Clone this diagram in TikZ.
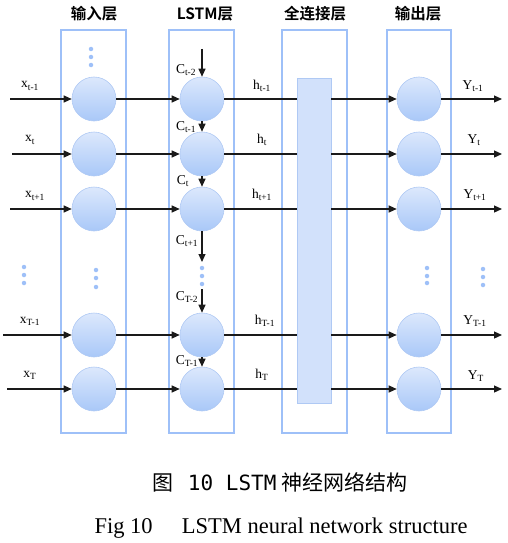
\documentclass[tikz,border=0pt]{standalone}
\usepackage{fontspec}
\setmainfont{Liberation Serif}
\newfontfamily\cjkb{Noto Sans CJK SC}[BoldFont={* Bold}]
\newfontfamily\cjk{Noto Sans CJK SC}
\newfontfamily\monof{DejaVu Sans Mono}
\usetikzlibrary{arrows.meta}
\definecolor{boxc}{HTML}{9EC0F8}
\definecolor{circtop}{HTML}{DCE8FC}
\definecolor{circbot}{HTML}{A9C8F8}
\definecolor{circline}{HTML}{AFC9F4}
\definecolor{fcfill}{HTML}{D2E1FB}
\definecolor{linec}{HTML}{1A1A1A}
\tikzset{
  layerbox/.style={draw=boxc, line width=1.1pt},
  neuron/.style={circle, minimum size=44pt, inner sep=0pt, draw=circline, line width=0.6pt, top color=circtop, bottom color=circbot},
  conn/.style={draw=linec, line width=1.2pt, -{Triangle[length=8pt,width=7pt]}},
  plain/.style={draw=linec, line width=1.2pt},
  lab/.style={font=\fontsize{13.5}{15}\selectfont, inner sep=0pt},
  title/.style={font=\cjkb\bfseries\fontsize{15.5}{17}\selectfont, inner sep=0pt},
  dot/.style={circle, fill=boxc, inner sep=0pt, minimum size=4.5pt}
}
\begin{document}
\begin{tikzpicture}[x=1pt,y=-1pt]
\useasboundingbox (0,0) rectangle (507,543);
% layer boxes
\draw[layerbox] (61,30) rectangle (126,433);
\draw[layerbox] (169,30) rectangle (234,433);
\draw[layerbox] (282,30) rectangle (347,433);
\draw[layerbox] (387,30) rectangle (451,433);
% titles
\node[title] (t1) at (94,14) {输入层};
\node[title] (t2) at (205,14) {LSTM层};
\node[title] (t3) at (315,14) {全连接层};
\node[title] (t4) at (418,14) {输出层};
% FC rect
\node[draw=circline, fill=fcfill, line width=0.6pt, minimum width=34pt, minimum height=325pt, inner sep=0pt] (fc) at (314,240.5) {};
% neurons
\foreach \i/\y in {1/99,2/154,3/209,4/335,5/389}{
  \node[neuron] (in\i) at (94,\y) {};
  \node[neuron] (ls\i) at (202,\y) {};
  \node[neuron] (out\i) at (419,\y) {};
}
% input start coordinates
\coordinate (s1) at (10,99);
\coordinate (s2) at (12,154);
\coordinate (s3) at (10,209);
\coordinate (s4) at (3,335);
\coordinate (s5) at (7,389);
\foreach \i in {1,...,5}{
  \coordinate (e\i) at (502,0 |- out\i.east);
  \draw[conn] (s\i) -- (in\i.west);
  \draw[conn] (in\i.east) -- (ls\i.west);
  \draw[plain] (ls\i.east) -- (ls\i.east -| fc.west);
  \draw[conn] (out\i.west -| fc.east) -- (out\i.west);
  \draw[conn] (out\i.east) -- (e\i);
}
% vertical cell-state arrows
\coordinate (ctop) at (202,49);
\coordinate (cmid1) at (202,262);
\coordinate (cmid2) at (202,289);
\draw[conn] (ctop) -- (ls1.north);
\draw[conn] (ls1.south) -- (ls2.north);
\draw[conn] (ls2.south) -- (ls3.north);
\draw[conn] (ls3.south) -- (cmid1);
\draw[conn] (cmid2) -- (ls4.north);
\draw[conn] (ls4.south) -- (ls5.north);
% dots
\foreach \x/\y in {91/49,91/57,91/65, 24/267,24/275,24/283, 96/270,96/278,96/287, 202/268,202/276,202/284, 427/268,427/276,427/283, 483/269,483/277,483/285}{
  \node[dot] at (\x,\y) {};
}
% input labels
\node[lab] (lx1) at (30,86) {x\textsubscript{t-1}};
\node[lab] (lx2) at (30,140) {x\textsubscript{t}};
\node[lab] (lx3) at (35,196) {x\textsubscript{t+1}};
\node[lab] (lx4) at (30,321) {x\textsubscript{T-1}};
\node[lab] (lx5) at (30,375) {x\textsubscript{T}};
% C labels
\node[lab] (c1) at (186,70) {C\textsubscript{t-2}};
\node[lab] (c2) at (186,127) {C\textsubscript{t-1}};
\node[lab] (c3) at (183,181) {C\textsubscript{t}};
\node[lab] (c4) at (187,241) {C\textsubscript{t+1}};
\node[lab] (c5) at (187,297) {C\textsubscript{T-2}};
\node[lab] (c6) at (187,361) {C\textsubscript{T-1}};
% h labels
\node[lab] (h1) at (262,86) {h\textsubscript{t-1}};
\node[lab] (h2) at (262,140) {h\textsubscript{t}};
\node[lab] (h3) at (262,195) {h\textsubscript{t+1}};
\node[lab] (h4) at (265,321) {h\textsubscript{T-1}};
\node[lab] (h5) at (262,375) {h\textsubscript{T}};
% Y labels
\node[lab] (y1) at (473,86) {Y\textsubscript{t-1}};
\node[lab] (y2) at (474,140) {Y\textsubscript{t}};
\node[lab] (y3) at (475,195) {Y\textsubscript{t+1}};
\node[lab] (y4) at (475,321) {Y\textsubscript{T-1}};
\node[lab] (y5) at (476,376) {Y\textsubscript{T}};
% captions
\node[inner sep=0pt, font=\fontsize{21}{23}\selectfont] (cap1) at (280,482) {{\cjk 图}\hspace{0.7em}{\monof 10 LSTM} {\cjk 神经网络结构}};
\node[inner sep=0pt, font=\fontsize{22.5}{25}\selectfont] (cap2) at (281,528) {Fig 10\hspace{1.3em}LSTM neural network structure};
\end{tikzpicture}
\end{document}
